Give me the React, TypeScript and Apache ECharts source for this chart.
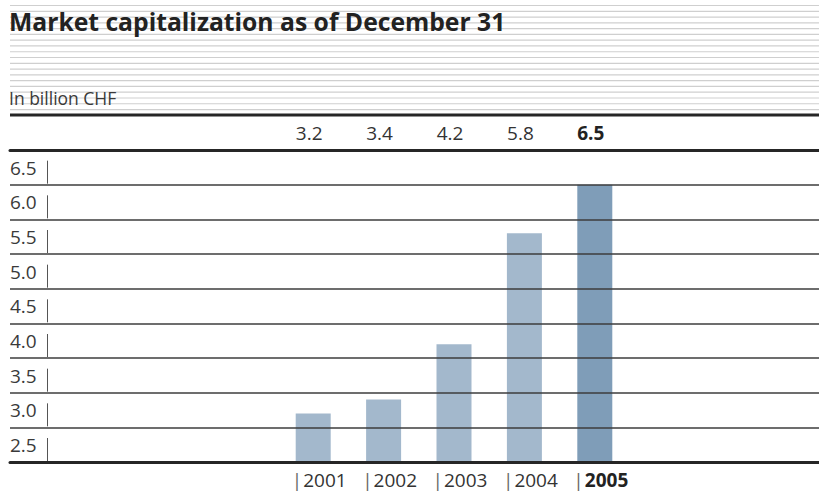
import React, { useEffect, useRef } from "react";
import * as echarts from "echarts";

const years = ["2001", "2002", "2003", "2004", "2005"];
const values = [3.2, 3.4, 4.2, 5.8, 6.5];
const valueLabels = ["3.2", "3.4", "4.2", "5.8", "6.5"];
const yTicks = [2.5, 3.0, 3.5, 4.0, 4.5, 5.0, 5.5, 6.0, 6.5];
const title = "Market capitalization as of December 31";
const subtitle = "In billion CHF";

const FONT = "'Open Sans', 'Noto Sans', sans-serif";
const LIGHT = "#a3b8cc";
const DARK = "#7f9db8";
const FS = 19;

export default function App() {
  const ref = useRef<HTMLDivElement>(null);
  useEffect(() => {
    document.body.style.margin = "0";
    if (!ref.current) return;
    const chart = echarts.init(ref.current, null, { renderer: "svg" });

    const stripes: any[] = [];
    for (let i = 0; i < 19; i++) {
      const y = 5.5 + i * 5.78;
      stripes.push({
        type: "line",
        shape: { x1: 10, y1: y, x2: 819, y2: y },
        style: { stroke: "#cfcfcf", lineWidth: 1.2 },
        z: 1,
      });
    }

    const option: any = {
      animation: false,
      backgroundColor: "#ffffff",
      textStyle: { fontFamily: FONT },
      graphic: [
        ...stripes,
        {
          type: "text",
          left: 9,
          top: 9,
          z: 10,
          style: {
            text: title,
            font: `bold 24.7px ${FONT}`,
            fill: "#222222",
          },
        },
        {
          type: "text",
          left: 9,
          top: 89,
          z: 10,
          style: {
            text: subtitle,
            font: `17.5px ${FONT}`,
            fill: "#3a3a3a",
          },
        },
        {
          type: "line",
          shape: { x1: 10, y1: 115, x2: 819, y2: 115 },
          style: { stroke: "#262626", lineWidth: 3 },
          z: 10,
        },
      ],
      grid: [
        { left: 10, right: 0, top: 150, bottom: 30, outerBoundsMode: "none" },
        { left: 278, right: 189, top: 150, bottom: 30, outerBoundsMode: "none" },
      ],
      xAxis: [
        {
          gridIndex: 0,
          type: "value",
          min: 0,
          max: 1,
          position: "bottom",
          axisLine: { show: true, lineStyle: { color: "#262626", width: 3 } },
          axisTick: { show: false },
          axisLabel: { show: false },
          splitLine: { show: false },
          z: 6,
        },
        {
          gridIndex: 0,
          type: "value",
          min: 0,
          max: 1,
          position: "top",
          axisLine: { show: true, lineStyle: { color: "#262626", width: 3 } },
          axisTick: { show: false },
          axisLabel: { show: false },
          splitLine: { show: false },
          z: 6,
        },
        {
          gridIndex: 1,
          type: "category",
          data: years,
          position: "bottom",
          axisLine: { show: false },
          axisTick: { show: false },
          splitLine: { show: false },
          axisLabel: {
            interval: 0,
            hideOverlap: false,
            margin: 0,
            lineHeight: 36,
            verticalAlign: "top",
            formatter: (v: string) =>
              v === "2005" ? `{p||}{b|${v}}` : `{p||}{y|${v}}`,
            rich: {
              p: {
                fontFamily: FONT,
                fontSize: FS,
                color: "#666",
                lineHeight: 36,
                padding: [0, 1, 0, 12],
              },
              y: { fontFamily: FONT, fontSize: FS, color: "#333", lineHeight: 36 },
              b: {
                fontFamily: FONT,
                fontSize: FS,
                fontWeight: "bold",
                color: "#222",
                lineHeight: 36,
              },
            },
          },
        },
        {
          gridIndex: 1,
          type: "category",
          data: valueLabels,
          position: "top",
          axisLine: { show: false },
          axisTick: { show: false },
          splitLine: { show: false },
          axisLabel: {
            interval: 0,
            hideOverlap: false,
            margin: 0,
            lineHeight: 35,
            verticalAlign: "bottom",
            formatter: (v: string) => (v === "6.5" ? `{b|${v}}` : `{v|${v}}`),
            rich: {
              v: {
                fontFamily: FONT,
                fontSize: FS,
                color: "#333",
                lineHeight: 35,
                padding: [0, 8, 0, 0],
              },
              b: {
                fontFamily: FONT,
                fontSize: FS,
                fontWeight: "bold",
                color: "#222",
                lineHeight: 35,
                padding: [0, 8, 0, 0],
              },
            },
          },
        },
      ],
      yAxis: [
        {
          gridIndex: 0,
          type: "value",
          min: 2.5,
          max: 7.0,
          interval: 0.5,
          z: 5,
          axisLine: { show: false },
          axisTick: { show: false },
          splitLine: {
            show: true,
            showMinLine: false,
            showMaxLine: false,
            lineStyle: { color: "#3c3c3c", width: 1.5 },
          },
          axisLabel: {
            inside: true,
            showMinLabel: true,
            showMaxLabel: false,
            hideOverlap: false,
            margin: 0,
            align: "left",
            verticalAlign: "bottom",
            lineHeight: 20,
            padding: [0, 0, 7, 0],
            fontSize: FS,
            fontFamily: FONT,
            color: "#3a3a3a",
            formatter: (v: number) => (v >= 7 ? "" : v.toFixed(1)),
          },
        },
        {
          gridIndex: 1,
          type: "value",
          min: 2.5,
          max: 7.0,
          interval: 0.5,
          show: false,
          splitLine: { show: false },
        },
      ],
      series: [
        {
          type: "bar",
          xAxisIndex: 2,
          yAxisIndex: 1,
          barWidth: 35,
          z: 2,
          data: values.map((v, i) => ({
            value: v,
            itemStyle: { color: i === values.length - 1 ? DARK : LIGHT },
          })),
        },
        {
          type: "custom",
          xAxisIndex: 0,
          yAxisIndex: 0,
          z: 7,
          data: yTicks.map((v) => [0, v]),
          renderItem: (params: any, api: any) => {
            const p = api.coord([0, api.value(1)]);
            const cs = params.coordSys;
            const x = Math.round(cs.x + 38) - 0.5;
            return {
              type: "line",
              shape: { x1: x, y1: p[1] - 24, x2: x, y2: p[1] - 1 },
              style: { stroke: "#555", lineWidth: 1 },
            };
          },
        },
      ],
    };
    chart.setOption(option);
    return () => chart.dispose();
  }, []);
  return <div ref={ref} style={{ width: 819, height: 492 }} />;
}
